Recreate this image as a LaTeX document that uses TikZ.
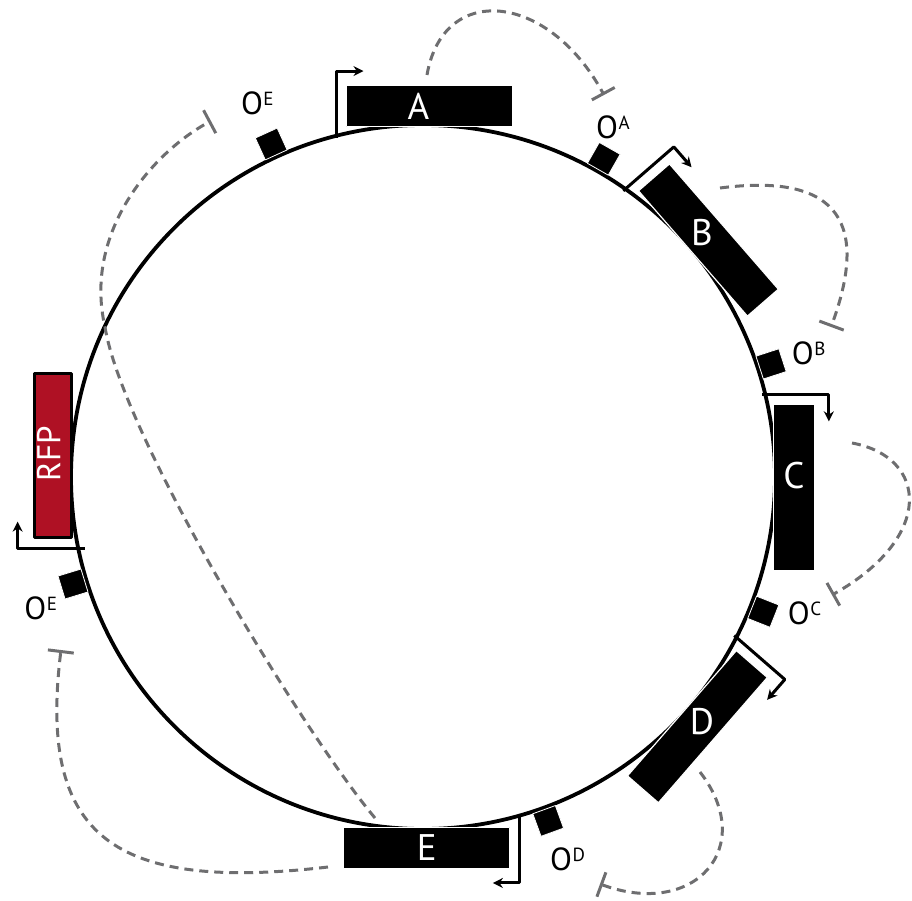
\documentclass[tikz,border=0pt]{standalone}
\usepackage{fontspec}
\setmainfont{PT Sans}
\usetikzlibrary{arrows.meta}
\definecolor{rfpred}{RGB}{175,17,36}
\definecolor{repgray}{RGB}{110,110,112}

\begin{document}
\begin{tikzpicture}[x=1pt, y=1pt, line join=round,
    genebox/.style={rectangle, fill=black, draw=white, line width=1.2pt,
      minimum width=166pt, minimum height=41pt, inner sep=0pt},
    rfpbox/.style={rectangle, fill=rfpred, draw=black, line width=2.8pt,
      minimum width=164pt, minimum height=37pt, inner sep=0pt},
    opbox/.style={rectangle, fill=black, draw=white, line width=.8pt,
      minimum size=24pt, inner sep=0pt},
    genelabel/.style={text=white, inner sep=0pt, font=\fontsize{37}{37}\selectfont},
    oplabel/.style={inner sep=0pt, font=\fontsize{32}{32}\selectfont},
    promoter/.style={line width=3pt, -{Stealth[length=10pt,width=10pt]}},
    repress/.style={repgray, line width=3pt, dash pattern=on 9pt off 6pt,
      -{Bar[width=26pt]}}]
  % ---- origin = plasmid centre, radius 352; genes sit at 371, operators at 366 ----
  % the curves' control points stick out, so the frame is fixed first
  \path[use as bounding box] (-423,-423) rectangle (489,477);
  \def\opname#1{O\kern.5pt\raisebox{9pt}{\fontsize{19}{19}\selectfont #1}}
  % gene: name, angle, box turn, text, label shift along the box
  \def\gene#1#2#3#4#5{%
    \node[genebox, rotate=#3] (#1) at (#2:371) {};
    \begin{scope}[shift={(#1.center)}, rotate=#3]
      \draw[promoter] (-93,-32) -- (-93,35) -- (-66,35);
      \node[genelabel] (#1txt) at (#5,0) {#4};
    \end{scope}}

  % ── backbone ──
  \coordinate (ori) at (0,0);
  \draw[line width=3.8pt] (ori) circle[radius=352];

  % ── repression loops: gene -> operator, bar at the operator end ──
  \coordinate (fromA) at (4,402);     \coordinate (barA) at (181,382);
  \coordinate (fromB) at (297,289);   \coordinate (barB) at (408,150);
  \coordinate (fromC) at (429,34);    \coordinate (barC) at (409,-118);
  \coordinate (fromD) at (277,-295);  \coordinate (barD) at (177,-407);
  \coordinate (fromEl) at (-95,-390); \coordinate (barEl) at (-362,-173);
  \coordinate (fromEt) at (-48,-341); \coordinate (crossEt) at (-318,150);
  \coordinate (barEt) at (-212,356);
  \draw[repress] (fromA) .. controls (20,495) and (125,485) .. (barA);
  \draw[repress] (fromB) .. controls (420,305) and (445,250) .. (barB);
  \draw[repress] (fromC) .. controls (505,20) and (512,-60) .. (barC);
  \draw[repress] (fromD) .. controls (335,-370) and (272,-442) .. (barD);
  \draw[repress] (fromEl) .. controls (-310,-415) and (-385,-360) .. (barEl);
  % this one runs through the ring and out past the RFP side
  \draw[repress] (fromEt) .. controls (-120,-255) and (-300,40) .. (crossEt)
    .. controls (-340,245) and (-270,325) .. (barEt);

  % ── genes A..E, all read clockwise ──
  \gene{A}{89}{0}{A}{-11}
  \gene{B}{39.7}{-49}{B}{-10}
  \gene{C}{-1.6}{-90}{C}{-12}
  \gene{D}{-42.3}{-131}{D}{-7}
  \gene{E}{-89.4}{-180}{E}{0}

  % ── reporter ──
  \node[rfpbox, rotate=90] (RFP) at (176.7:371) {};
  \begin{scope}[shift={(RFP.center)}, rotate=90]
    \draw[promoter] (-93,-32) -- (-93,35) -- (-66,35);
    \node[genelabel, rotate=90, font=\fontsize{33}{33}\selectfont] (RFPtxt) at (2,4) {RFP};
  \end{scope}

  % ── operators + labels ──
  \foreach \nm/\ang/\la/\lr/\tf in {OA/60.4/61.5/398/A, OB/18/17.8/405/B,
      OC/-21.6/-19.6/405/C, OD/-70/-69.3/409/D, OEt/114.5/113.9/409/E,
      OEl/197/198.9/404/E} {
    \node[opbox, rotate=\ang-90] (\nm) at (\ang:366) {};
    \node[oplabel] (\nm txt) at (\la:\lr) {\opname{\tf}};
  }
\end{tikzpicture}
\end{document}
